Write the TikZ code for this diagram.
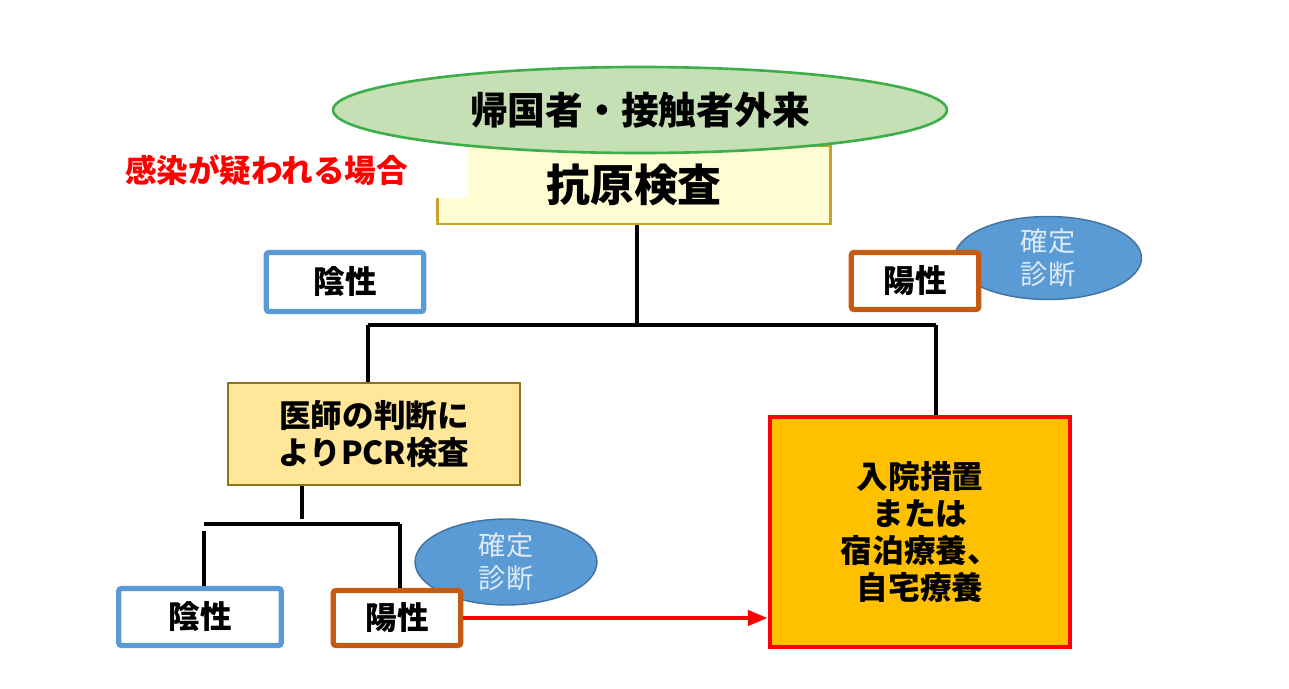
\documentclass[tikz,border=0pt]{standalone}
\usepackage{fontspec}
\setmainfont{Noto Sans CJK JP}
\usetikzlibrary{shapes.geometric,arrows.meta}
\definecolor{gaikaiG}{HTML}{C5E0B4}
\definecolor{gaikaiB}{HTML}{3DAE4A}
\definecolor{kougenF}{HTML}{FFFBD2}
\definecolor{kougenB}{HTML}{C9A227}
\definecolor{inseiB}{HTML}{5B9BD5}
\definecolor{youseiB}{HTML}{C55A11}
\definecolor{pcrF}{HTML}{FFE699}
\definecolor{pcrB}{HTML}{8C7320}
\definecolor{kakuteiF}{HTML}{5B9BD5}
\definecolor{kakuteiB}{HTML}{41719C}
\definecolor{kakuteiT}{HTML}{DEEBF7}
\definecolor{nyuinF}{HTML}{FFC000}
\begin{document}
\begin{tikzpicture}[x=0.02cm,y=-0.02cm,
	jp/.style={font=\bfseries\fontsize{18}{21}\selectfont},
	kekka/.style={draw,line width=3pt,rounded corners=1.5pt,fill=white,inner sep=0pt,jp},
	insei/.style={kekka,draw=inseiB},
	yousei/.style={kekka,draw=youseiB},
	kakutei/.style={ellipse,draw=kakuteiB,line width=.8pt,fill=kakuteiF,text=kakuteiT,
		inner sep=0pt,align=center,font=\fontsize{15.5}{19}\selectfont},
	eda/.style={line width=2.3pt}]
	\useasboundingbox (0,0) rectangle (1289,689);
	%	\draw[color=gray,dash pattern=on 1pt off 1pt,step=1cm] (0,0) grid (1289,689);
	% top
	\node[draw=kougenB,line width=1.5pt,fill=kougenF,minimum width=7.86cm,minimum height=1.56cm,
		font=\bfseries\fontsize{25}{30}\selectfont] (kougen) at (634,185) {抗原検査};
	\node[fill=white,minimum width=7.16cm,minimum height=1.14cm,inner xsep=.3cm,text width=6.56cm,
		align=left,text=red,jp] (utagai) at (289,170) {感染が疑われる場合};
	\node[ellipse,draw=gaikaiB,line width=1.5pt,fill=gaikaiG,minimum width=12.28cm,minimum height=1.72cm,
		inner sep=0pt,font=\bfseries\fontsize{21.5}{25}\selectfont] (gairai) at (640,110) {帰国者・接触者外来};
	\node[kakutei,minimum width=3.74cm,minimum height=1.66cm] (kakutei1) at (1048,258) {確定\\診断};
	\node[insei,minimum width=3.15cm,minimum height=1.18cm] (insei1) at (345,282) {陰性};
	\node[yousei,minimum width=2.55cm,minimum height=1.14cm] (yousei1) at (915,281) {陽性};
	% middle
	\node[draw=pcrB,line width=1.5pt,fill=pcrF,minimum width=5.84cm,minimum height=2.04cm,
		align=center,jp] (pcr) at (374,434) {医師の判断に\\よりPCR検査};
	\node[draw=red,line width=2.6pt,fill=nyuinF,minimum width=6cm,minimum height=4.6cm,
		align=center,jp] (nyuin) at (920,532) {入院措置\\または\\宿泊療養、\\自宅療養};
	% bottom
	\node[kakutei,minimum width=3.64cm,minimum height=1.72cm] (kakutei2) at (506,562) {確定\\診断};
	\node[insei,minimum width=3.25cm,minimum height=1.14cm] (insei2) at (200,617) {陰性};
	\node[yousei,minimum width=2.55cm,minimum height=1.1cm] (yousei2) at (397,618) {陽性};
	% branches
	\coordinate (j1) at (637,325);
	\coordinate (j1l) at (368,325);
	\coordinate (j1r) at (936,325);
	\draw[eda] (kougen.south -| j1) -- (j1);
	\draw[eda] (j1l) -- (j1r);
	\draw[eda] (j1l) -- (j1l |- pcr.north);
	\draw[eda] (j1r) -- (j1r |- nyuin.north);
	\coordinate (j2) at (302,524);
	\coordinate (j2l) at (204,524);
	\coordinate (j2r) at (400,524);
	\draw[eda] (pcr.south -| j2) -- ([yshift=.1cm]j2);
	\draw[eda] (j2l) -- (j2r);
	\draw[eda] ([yshift=-.15cm]j2l) -- (j2l |- insei2.north);
	\draw[eda] (j2r) -- (j2r |- yousei2.north);
	\draw[red,line width=2.6pt,-{Triangle[length=.4cm,width=.3cm]}] (yousei2.east) -- (yousei2.east -| nyuin.west);
\end{tikzpicture}
\end{document}
